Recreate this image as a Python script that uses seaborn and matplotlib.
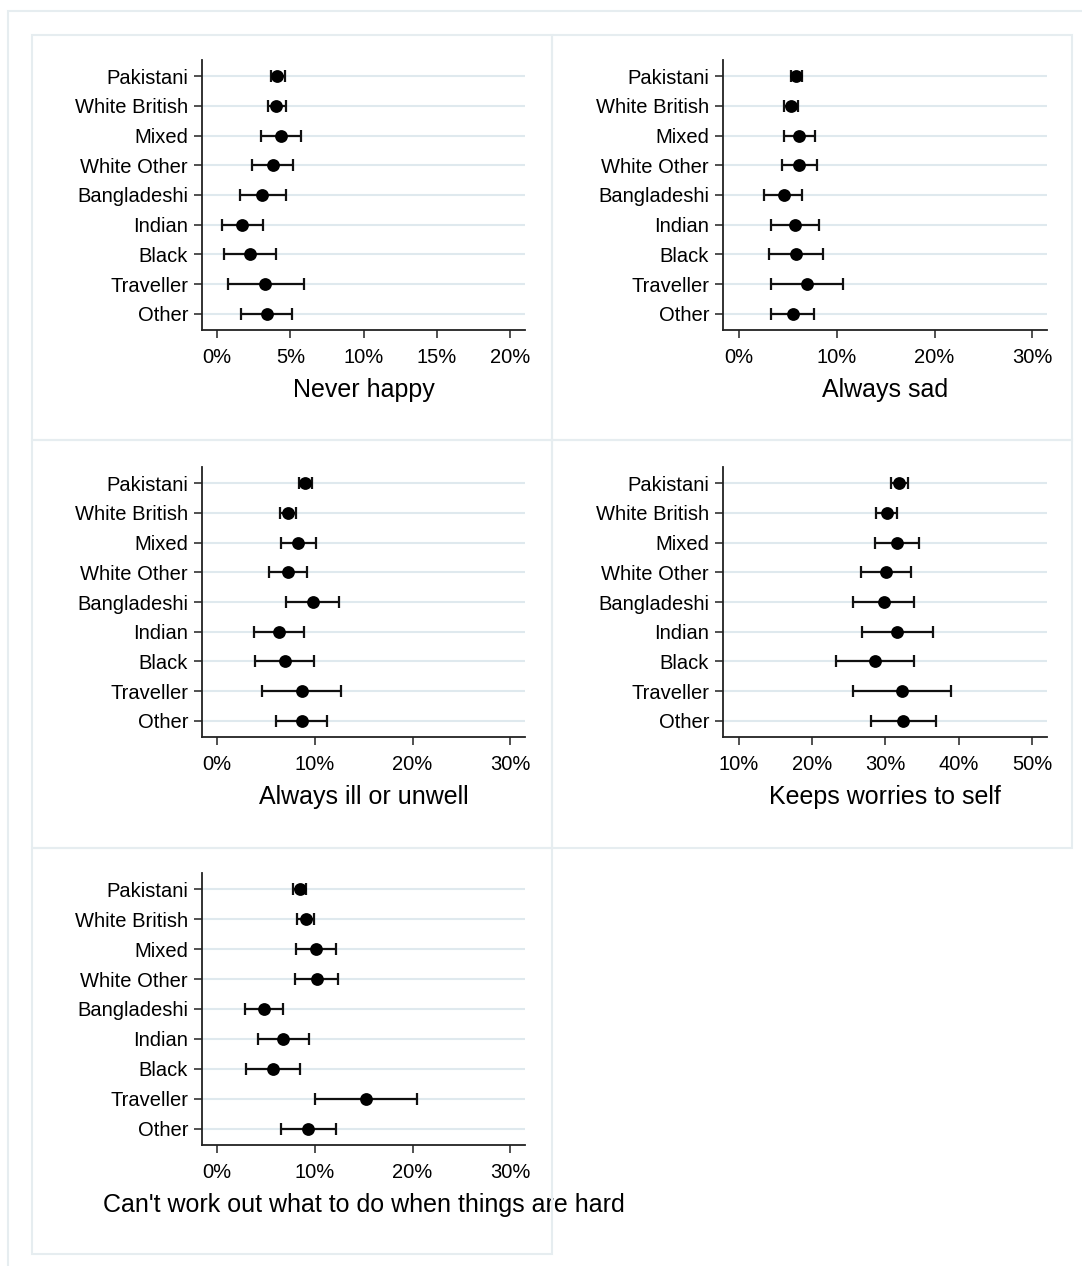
import matplotlib
matplotlib.use('Agg')
import matplotlib.pyplot as plt
import seaborn as sns
import pandas as pd
from matplotlib.patches import Rectangle
from matplotlib.ticker import PercentFormatter

# -----------------------------
# Dati (stime e intervalli di confidenza, in %)
# -----------------------------
groups = ['Pakistani', 'White British', 'Mixed', 'White Other', 'Bangladeshi',
          'Indian', 'Black', 'Traveller', 'Other']

never_happy = [4.1, 4.0, 4.35, 3.78, 3.08, 1.73, 2.23, 3.30, 3.39]
never_happy_lo = [3.67, 3.49, 2.98, 2.39, 1.53, 0.36, 0.50, 0.75, 1.66]
never_happy_hi = [4.62, 4.67, 5.72, 5.17, 4.69, 3.12, 3.99, 5.90, 5.13]

always_sad = [5.85, 5.27, 6.16, 6.12, 4.55, 5.71, 5.78, 6.98, 5.51]
always_sad_lo = [5.30, 4.58, 4.55, 4.38, 2.57, 3.28, 3.04, 3.28, 3.28]
always_sad_hi = [6.40, 6.02, 7.80, 7.97, 6.47, 8.21, 8.59, 10.67, 7.70]

always_ill = [8.99, 7.24, 8.30, 7.21, 9.77, 6.32, 6.90, 8.64, 8.64]
always_ill_lo = [8.34, 6.46, 6.49, 5.30, 7.07, 3.76, 3.89, 4.58, 5.98]
always_ill_hi = [9.74, 8.06, 10.11, 9.16, 12.47, 8.92, 9.91, 12.64, 11.27]

keeps_worries = [31.91, 30.18, 31.55, 30.09, 29.77, 31.64, 28.59, 32.28, 32.46]
keeps_worries_lo = [30.77, 28.77, 28.54, 26.67, 25.58, 26.81, 23.30, 25.58, 28.00]
keeps_worries_hi = [33.05, 31.64, 34.60, 33.46, 33.92, 36.47, 33.96, 38.97, 36.97]

cant_work_out = [8.44, 9.09, 10.11, 10.22, 4.82, 6.76, 5.71, 15.24, 9.33]
cant_work_out_lo = [7.72, 8.20, 8.10, 7.99, 2.84, 4.17, 2.94, 9.98, 6.53]
cant_work_out_hi = [9.09, 9.94, 12.13, 12.40, 6.76, 9.40, 8.47, 20.46, 12.13]

# titolo, stima, lo, hi, xlim, xticks, riquadro pannello, area assi (pixel)
panels = [
    ("Never happy", never_happy, never_happy_lo, never_happy_hi,
     (-1.03, 21.0), [0, 5, 10, 15, 20], (32, 35, 552, 440), (202, 60, 525, 330)),
    ("Always sad", always_sad, always_sad_lo, always_sad_hi,
     (-1.64, 31.5), [0, 10, 20, 30], (552, 35, 1072, 440), (723, 60, 1047, 330)),
    ("Always ill or unwell", always_ill, always_ill_lo, always_ill_hi,
     (-1.54, 31.5), [0, 10, 20, 30], (32, 440, 552, 848), (202, 467, 525, 737)),
    ("Keeps worries to self", keeps_worries, keeps_worries_lo, keeps_worries_hi,
     (7.86, 52.05), [10, 20, 30, 40, 50], (552, 440, 1072, 848), (723, 467, 1047, 737)),
    ("Can't work out what to do when things are hard", cant_work_out, cant_work_out_lo, cant_work_out_hi,
     (-1.54, 31.5), [0, 10, 20, 30], (32, 848, 552, 1254), (202, 873, 525, 1145)),
]

W, H = 1082, 1266
border_col = '#e6edf0'
grid_col = '#dfe9ee'

sns.set_style('white')
plt.rcParams['font.family'] = ['Liberation Sans', 'DejaVu Sans']
plt.rcParams['text.color'] = 'black'
plt.rcParams['axes.labelcolor'] = 'black'
plt.rcParams['xtick.color'] = 'black'
plt.rcParams['ytick.color'] = 'black'

fig = plt.figure(figsize=(W / 100, H / 100), dpi=100)
fig.patch.set_facecolor('white')

# riquadro esterno
fig.patches.append(Rectangle((8 / W, -0.01), 1.1, (H - 11) / H + 0.01, transform=fig.transFigure,
                             fill=False, edgecolor=border_col, linewidth=1.5))


def px_rect(x0, y0, x1, y1):
    return [x0 / W, 1 - y1 / H, (x1 - x0) / W, (y1 - y0) / H]


for title, est, lo, hi, xlim, xticks, box, area in panels:
    bx = px_rect(*box)
    fig.patches.append(Rectangle((bx[0], bx[1]), bx[2], bx[3], transform=fig.transFigure,
                                 fill=False, edgecolor=border_col, linewidth=1.5))

    ax = fig.add_axes(px_rect(*area))
    df = pd.DataFrame({'gruppo': groups, 'pos': range(len(groups)),
                       'stima': est, 'lo': lo, 'hi': hi})

    for p in df['pos']:
        ax.axhline(p, color=grid_col, linewidth=1.5, zorder=0)

    ax.errorbar(df['stima'], df['pos'],
                xerr=[df['stima'] - df['lo'], df['hi'] - df['stima']],
                fmt='none', ecolor='#111111', elinewidth=1.6, capsize=4.5, capthick=1.6, zorder=2)
    sns.scatterplot(data=df, x='stima', y='pos', ax=ax, color='black', s=85,
                    edgecolor='black', linewidth=0, zorder=3, legend=False)

    ax.set_xlim(*xlim)
    ax.set_ylim(len(groups) - 1 + 0.54, -0.54)
    ax.set_yticks(range(len(groups)))
    ax.set_yticklabels(groups)
    ax.set_xticks(xticks)
    ax.xaxis.set_major_formatter(PercentFormatter(decimals=0))
    ax.set_ylabel('')
    ax.set_xlabel(title, fontsize=18, labelpad=8)
    ax.tick_params(axis='both', labelsize=14.5, length=6, width=1.1, color='#222222',
                   direction='out', left=True, bottom=True)
    ax.tick_params(axis='y', pad=4)
    ax.tick_params(axis='x', pad=7)
    for side in ['top', 'right']:
        ax.spines[side].set_visible(False)
    for side in ['left', 'bottom']:
        ax.spines[side].set_color('#222222')
        ax.spines[side].set_linewidth(1.3)
    ax.set_facecolor('white')
    ax.grid(False)

fig.savefig('out.png', dpi=100)
